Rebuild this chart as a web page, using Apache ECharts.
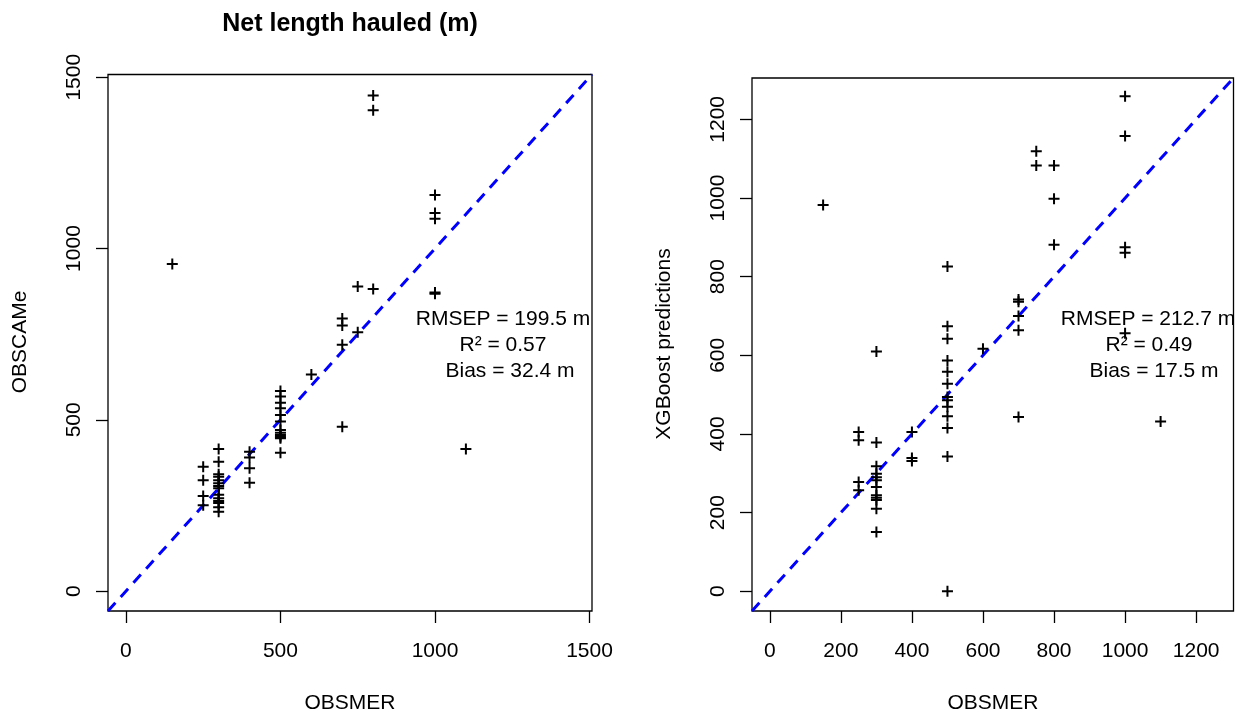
<!DOCTYPE html>
<html><head><meta charset="utf-8">
<script src="https://cdn.jsdelivr.net/npm/echarts@6/dist/echarts.min.js"></script>
<style>html,body{margin:0;padding:0;background:#fff}#c{width:1241px;height:715px}</style>
</head><body><div id="c"></div>
<script>
// Left panel: OBSMER vs OBSCAMe
const obsmerA = [150,
  250,250,250,250,
  300,300,300,300,300,300,300,300,300,300,300,300,300,300,
  400,400,400,400,
  500,500,500,500,500,500,500,500,500,500,500,500,
  600,
  700,700,700,700,
  750,750,
  800,800,800,
  1000,1000,1000,1000,1000,
  1100];
const obscame = [955,
  363,324,278,251,
  415,378,341,334,324,315,307,300,281,271,263,257,245,232,
  407,390,359,316,
  584,568,550,534,514,495,470,462,456,450,446,404,
  632,
  796,775,719,480,
  889,756,
  1447,1404,882,
  1156,1104,1087,872,868,
  415];
// Right panel: OBSMER vs XGBoost predictions
const obsmerB = [150,
  250,250,250,250,
  300,300,300,300,300,300,300,300,300,300,300,300,
  400,400,400,
  500,500,500,500,500,500,500,500,500,500,500,500,500,
  600,
  700,700,700,700,700,
  750,750,
  800,800,800,
  1000,1000,1000,1000,1000,
  1100];
const xgboost = [982,
  405,384,278,257,
  610,378,318,299,290,282,265,244,238,232,210,151,
  405,339,331,
  826,674,642,587,558,528,494,486,469,445,415,343,0,
  617,
  742,736,700,664,443,
  1119,1083,
  1083,998,881,
  1259,1158,875,861,656,
  432];
const ticksA = [0, 500, 1000, 1500];
const ticksB = [0, 200, 400, 600, 800, 1000, 1200];
const limA = [-58, 1508];
const limB = [-50.2, 1305.2];
const statsA = ['RMSEP = 199.5 m', 'R\u00B2 = 0.57', 'Bias = 32.4 m'];
const statsB = ['RMSEP = 212.7 m', 'R\u00B2 = 0.49', 'Bias = 17.5 m'];

const FONT = 'Liberation Sans, Arial, sans-serif';
const plus = 'path://M4.5,0 h2 v4.5 h4.5 v2 h-4.5 v4.5 h-2 v-4.5 h-4.5 v-2 h4.5 z';
const zip = (a, b) => a.map((v, i) => [v, b[i]]);

function axis(idx, lim, ticks, isY) {
  return {
    type: 'value', gridIndex: idx, min: lim[0], max: lim[1],
    axisLine: {show: false, onZero: false},
    splitLine: {show: false},
    axisTick: {show: true, inside: false, length: 12, customValues: ticks,
      lineStyle: {color: '#000', width: 1.3}},
    axisLabel: {show: true, customValues: ticks, color: '#000', fontSize: 21,
      fontFamily: FONT, margin: isY ? 23 : 30, rotate: isY ? 90 : 0,
      formatter: v => String(v)}
  };
}

const chart = echarts.init(document.getElementById('c'));
const grids = [
  {left: 108, top: 74.5, width: 484, height: 536.5},
  {left: 752, top: 78, width: 481.5, height: 533}
];
grids.forEach(g => { g.show = true; g.borderColor = '#000'; g.borderWidth = 1.3; g.backgroundColor = 'transparent'; });

function stat(texts, xs, ys) {
  return texts.map((t, i) => ({
    type: 'text', x: xs[i], y: ys[i],
    style: {text: t, fill: '#000', font: '21px ' + FONT, align: 'center', verticalAlign: 'middle'}
  }));
}

chart.setOption({
  animation: false,
  backgroundColor: '#fff',
  grid: grids,
  xAxis: [axis(0, limA, ticksA, false), axis(1, limB, ticksB, false)],
  yAxis: [axis(0, limA, ticksA, true), axis(1, limB, ticksB, true)],
  series: [
    {type: 'line', xAxisIndex: 0, yAxisIndex: 0, data: [[limA[0], limA[0]], [limA[1], limA[1]]],
     symbol: 'none', clip: true, lineStyle: {color: '#0000FF', width: 3, type: [11, 8]}, z: 1},
    {type: 'line', xAxisIndex: 1, yAxisIndex: 1, data: [[limB[0], limB[0]], [limB[1], limB[1]]],
     symbol: 'none', clip: true, lineStyle: {color: '#0000FF', width: 3, type: [11, 8]}, z: 1},
    {type: 'scatter', xAxisIndex: 0, yAxisIndex: 0, data: zip(obsmerA, obscame),
     symbol: plus, symbolSize: 11, itemStyle: {color: '#000', opacity: 1}, z: 2},
    {type: 'scatter', xAxisIndex: 1, yAxisIndex: 1, data: zip(obsmerB, xgboost),
     symbol: plus, symbolSize: 11, itemStyle: {color: '#000', opacity: 1}, z: 2}
  ],
  graphic: [
    {type: 'text', x: 350, y: 24, style: {text: 'Net length hauled (m)', fill: '#000',
      font: 'bold 25px ' + FONT, align: 'center', verticalAlign: 'middle'}},
    {type: 'text', x: 350, y: 703, style: {text: 'OBSMER', fill: '#000',
      font: '21px ' + FONT, align: 'center', verticalAlign: 'middle'}},
    {type: 'text', x: 993, y: 703, style: {text: 'OBSMER', fill: '#000',
      font: '21px ' + FONT, align: 'center', verticalAlign: 'middle'}},
    {type: 'text', x: 20, y: 342, rotation: Math.PI / 2, style: {text: 'OBSCAMe', fill: '#000',
      font: '21px ' + FONT, align: 'center', verticalAlign: 'middle'}},
    {type: 'text', x: 664, y: 344, rotation: Math.PI / 2, style: {text: 'XGBoost predictions', fill: '#000',
      font: '21px ' + FONT, align: 'center', verticalAlign: 'middle'}},
    ...stat(statsA, [503, 503, 510], [319, 345, 371]),
    ...stat(statsB, [1148, 1149, 1154], [319, 345, 371])
  ]
});
</script></body></html>
